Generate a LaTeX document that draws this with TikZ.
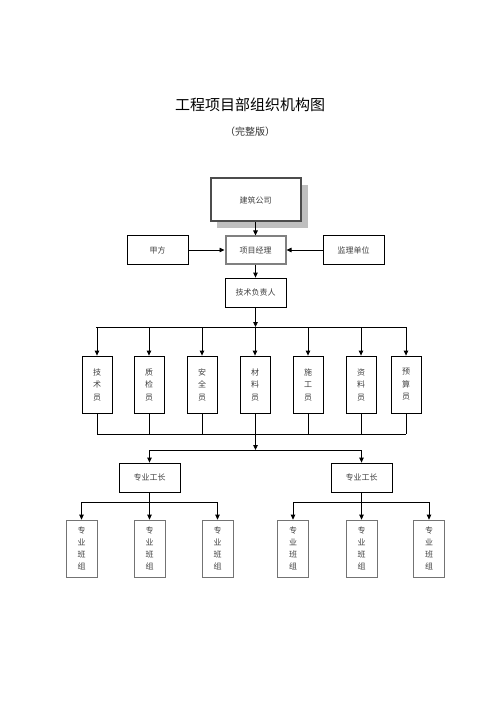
\documentclass[tikz,border=0pt]{standalone}
\usepackage{fontspec}
\setmainfont{Liberation Serif}
\newfontfamily\cjk{Noto Sans CJK SC}
\usetikzlibrary{arrows.meta}
\begin{document}
\begin{tikzpicture}[x=1pt,y=-1pt,
  box/.style={draw=black,line width=0.8pt,inner sep=0pt,font=\cjk\fontsize{8}{9}\selectfont,text=black!75},
  gbox/.style={box,draw=black!55,line width=0.7pt},
  arr/.style={-{Triangle[length=5pt,width=4.5pt]},line width=0.8pt},
  ln/.style={line width=0.8pt}]
\useasboundingbox (0,0) rectangle (500,708);
% titles
\node[font=\cjk\fontsize{15}{16}\selectfont] (title) at (250,105) {工程项目部组织机构图};
\node[font=\cjk\fontsize{10}{11}\selectfont,text=black!80] (sub) at (250,132) {（完整版）};
% shadow of top box
\fill[black!25] (217,185) rectangle (308,228);
% top level
\node[box,fill=white,draw=black!70,line width=2pt,minimum width=90pt,minimum height=43pt] (co) at (255.5,200) {建筑公司};
\node[box,draw=black!50,line width=2pt,minimum width=60pt,minimum height=27pt] (pm) at (255.5,250) {项目经理};
\node[box,minimum width=61pt,minimum height=29pt] (jf) at (157.5,250) {甲方};
\node[box,minimum width=61pt,minimum height=29pt] (jl) at (353.5,250) {监理单位};
\node[box,minimum width=61pt,minimum height=29pt] (js) at (255.5,292.5) {技术负责人};
\draw[arr] (co) -- (pm);
\draw[arr] (jf) -- (pm);
\draw[arr] (jl) -- (pm);
\draw[arr] (pm) -- (js);
% staff row
\foreach \n/\x/\t in {s1/97/{技\\术\\员},s2/149/{质\\检\\员},s3/202/{安\\全\\员},s4/255/{材\\料\\员},s5/308/{施\\工\\员},s6/361/{资\\料\\员},s7/406/{预\\算\\员}}{
  \node[box,minimum width=30pt,minimum height=57pt,align=center,font=\cjk\fontsize{8}{12.5}\selectfont] (\n) at (\x,384.5) {\t};
}
\coordinate (b1) at (255.5,327);
\coordinate (bl) at (96,327);
\coordinate (br) at (406,327);
\draw[arr] (js) -- (b1);
\draw[ln] (bl) -- (br);
\foreach \n in {s1,s2,s3,s4,s5,s6,s7}{
  \draw[arr] (\n.north |- b1) -- (\n.north);
}
\coordinate (c1) at (255.5,434);
\foreach \n in {s1,s2,s3,s4,s5,s6,s7}{
  \draw[ln] (\n.south) -- (\n.south |- c1);
}
\draw[ln] (s1.south |- c1) -- (s7.south |- c1);
% foremen
\node[box,minimum width=61pt,minimum height=29pt] (f1) at (149.5,477.5) {专业工长};
\node[box,minimum width=61pt,minimum height=29pt] (f2) at (361.5,477.5) {专业工长};
\coordinate (c2) at (255.5,450);
\draw[arr] (c1) -- (c2);
\draw[ln] (f1.north |- c2) -- (f2.north |- c2);
\draw[arr] (f1.north |- c2) -- (f1.north);
\draw[arr] (f2.north |- c2) -- (f2.north);
% teams
\foreach \n/\x in {t1/81.5,t2/149.5,t3/217.5,t4/293,t5/361.5,t6/429}{
  \node[gbox,minimum width=31pt,minimum height=57pt,align=center,font=\cjk\fontsize{8}{12}\selectfont] (\n) at (\x,548.5) {专\\业\\班\\组};
}
\coordinate (d1) at (149.5,502);
\coordinate (d2) at (361.5,502);
\draw[ln] (f1) -- (d1);
\draw[ln] (f2) -- (d2);
\draw[ln] (t1.north |- d1) -- (t3.north |- d1);
\draw[ln] (t4.north |- d2) -- (t6.north |- d2);
\foreach \n in {t1,t2,t3}{ \draw[arr] (\n.north |- d1) -- (\n.north); }
\foreach \n in {t4,t5,t6}{ \draw[arr] (\n.north |- d2) -- (\n.north); }
\end{tikzpicture}
\end{document}
